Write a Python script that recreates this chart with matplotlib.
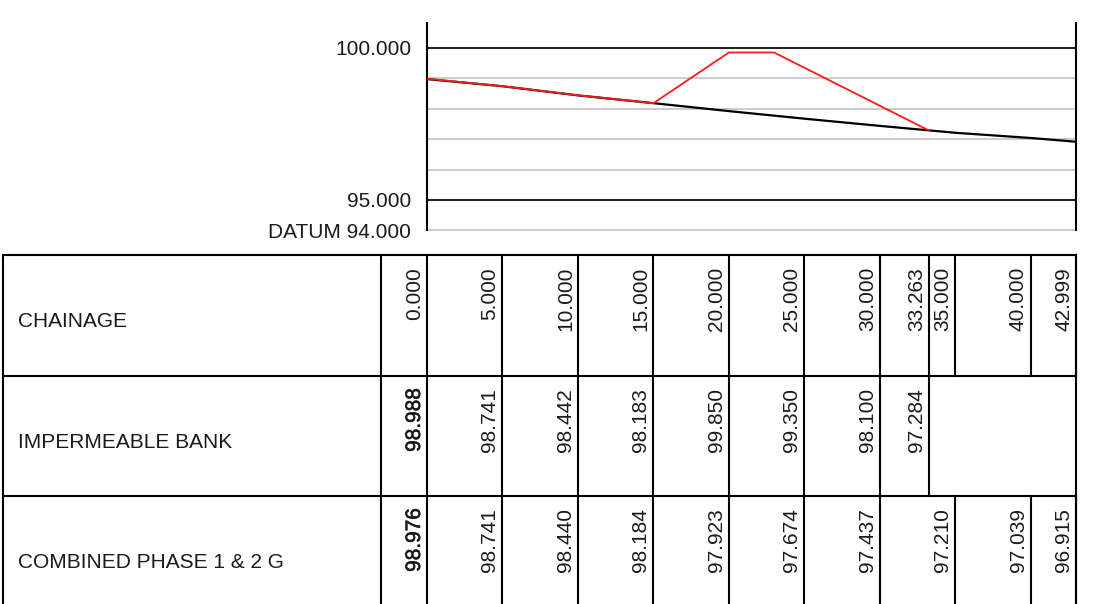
import matplotlib
matplotlib.use('Agg')
import matplotlib.pyplot as plt
import matplotlib.transforms as mtransforms
import matplotlib.patheffects as pe
from matplotlib.lines import Line2D

plt.rcParams['font.family'] = ['Liberation Sans', 'DejaVu Sans']
plt.rcParams['font.size'] = 15

# --- data ---
chainage = [0.0, 5.0, 10.0, 15.0, 20.0, 25.0, 30.0, 33.263, 35.0, 40.0, 42.999]
chainage_labels = ['0.000', '5.000', '10.000', '15.000', '20.000', '25.000',
                   '30.000', '33.263', '35.000', '40.000', '42.999']

bank_ch = [0.0, 5.0, 10.0, 15.0, 20.0, 25.0, 30.0, 33.263]
bank_lv = [98.988, 98.741, 98.442, 98.183, 99.850, 99.350, 98.100, 97.284]

# bank outline as drawn (crest runs flat to ch 23 then falls 1:4)
bank_line_ch = [0.0, 5.0, 10.0, 15.0, 20.0, 23.0, 33.263]
bank_line_lv = [98.988, 98.741, 98.442, 98.183, 99.850, 99.850, 97.284]

combined_ch = [0.0, 5.0, 10.0, 15.0, 20.0, 25.0, 30.0, 35.0, 40.0, 42.999]
combined_lv = [98.976, 98.741, 98.440, 98.184, 97.923, 97.674, 97.437, 97.210, 97.039, 96.915]

datum = 94.0
major_levels = [95.0, 100.0]
minor_levels = [94.0, 96.0, 97.0, 98.0, 99.0]
row_names = ['CHAINAGE', 'IMPERMEABLE BANK', 'COMBINED PHASE 1 & 2 G']

W, H = 1093, 604
fig = plt.figure(figsize=(W / 100, H / 100), dpi=100)
fig.patch.set_facecolor('white')


def fy(py):
    return 1 - py / H


# plot area in pixels: x 427..1076, y 22.7..230.4
ax = fig.add_axes([427 / W, fy(230.4), (1076 - 427) / W, (230.4 - 22.7) / H])
ax.set_xlim(0, chainage[-1])
ax.set_ylim(datum, 100.83)
ax.set_facecolor('none')

for lv in minor_levels:
    ax.axhline(lv, color='#c4c4c4', lw=1.2, clip_on=False, zorder=1)
for lv in major_levels:
    ax.axhline(lv, color='#1a1a1a', lw=1.4, clip_on=False, zorder=1)

ax.plot(combined_ch, combined_lv, color='black', lw=1.6, zorder=3)
ax.plot(bank_line_ch, bank_line_lv, color='#ff1a1a', lw=1.3, zorder=4)

for side in ['top', 'bottom']:
    ax.spines[side].set_visible(False)
for side in ['left', 'right']:
    ax.spines[side].set_color('black')
    ax.spines[side].set_linewidth(1.5)

ax.set_xticks([])
ax.set_yticks([100.0, 95.0, datum])
ax.set_yticklabels(['100.000', '95.000', 'DATUM 94.000'])
ax.tick_params(axis='y', length=0, pad=11.5, labelsize=15, colors='#1a1a1a')

# --- the long-section table below the plot ---
blend = mtransforms.blended_transform_factory(ax.transData, fig.transFigure)
row_tops = [255, 376, 496]
row_bottom = 604
lw_t = 1.5


def hline(x0, x1, py):
    fig.add_artist(Line2D([x0, x1], [fy(py), fy(py)], transform=fig.transFigure,
                          color='black', lw=lw_t, clip_on=False))


def vline_px(px, y0, y1):
    fig.add_artist(Line2D([px / W, px / W], [fy(y0), fy(y1)], transform=fig.transFigure,
                          color='black', lw=lw_t, clip_on=False))


def vline_ch(ch, y0, y1):
    fig.add_artist(Line2D([ch, ch], [fy(y0), fy(y1)], transform=blend,
                          color='black', lw=lw_t, clip_on=False))


for t in row_tops:
    hline(3 / W, 1076 / W, t)
vline_px(3, row_tops[0], row_bottom)
vline_px(381, row_tops[0], row_bottom)
vline_ch(chainage[-1], row_tops[0], row_bottom)

shift = mtransforms.ScaledTranslation(-3 / 100, 0, fig.dpi_scale_trans)

rows = [
    (chainage, chainage_labels, False),
    (bank_ch, [f'{v:.3f}' for v in bank_lv], True),
    (combined_ch, [f'{v:.3f}' for v in combined_lv], True),
]
for i, (chs, labels, heavy_first) in enumerate(rows):
    top = row_tops[i]
    bottom = row_tops[i + 1] if i + 1 < len(row_tops) else row_bottom
    fig.text(18 / W, fy(top + 72), row_names[i], ha='left', va='baseline',
             fontsize=15, color='#1a1a1a')
    for j, (ch, lab) in enumerate(zip(chs, labels)):
        vline_ch(ch, top, bottom)
        txt = fig.text(ch, fy(top + 12), lab, transform=blend + shift,
                       rotation=90, ha='right', va='top', fontsize=15, color='#1a1a1a')
        if heavy_first and j == 0:
            txt.set_path_effects([pe.withStroke(linewidth=0.4, foreground='#1a1a1a')])

fig.savefig('out.png', dpi=100, facecolor='white')
